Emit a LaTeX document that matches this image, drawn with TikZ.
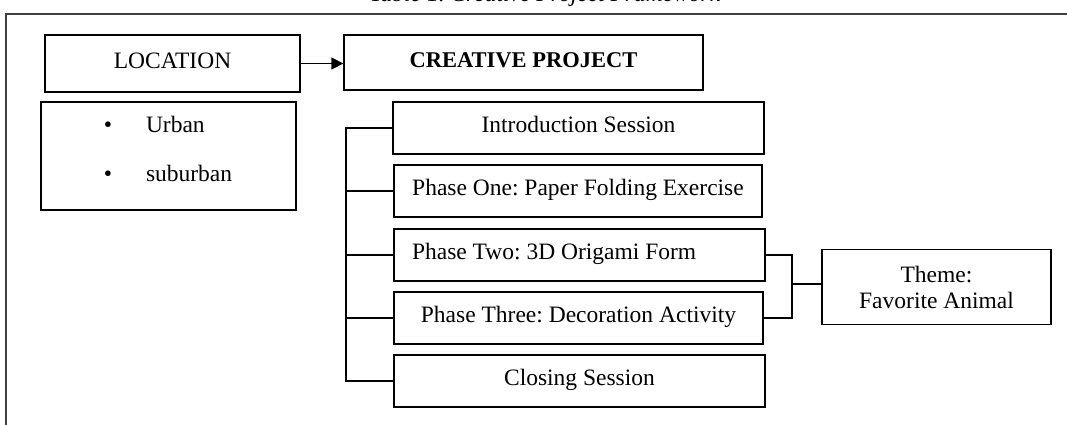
\documentclass[tikz,border=0pt]{standalone}
\usepackage{fontspec}
\setmainfont{Liberation Serif}
\usetikzlibrary{arrows.meta}
\frenchspacing
\begin{document}
\begin{tikzpicture}[x=1pt,y=-1pt,
  boxbase/.style={draw=black, line width=1.3pt, fill=white, inner sep=0pt,
    font=\fontsize{23.5}{27}\selectfont\frenchspacing},
  box/.style={boxbase, text height=16pt, text depth=7pt},
  conn/.style={draw=black, line width=1.3pt},
  frame/.style={draw=black!75, line width=2pt}]
\clip (0,0) rectangle (1067,424);
\fill[white] (0,0) rectangle (1067,424);
% caption (mostly cut off at the top)
\node[anchor=base, font=\fontsize{23.5}{27}\selectfont\itshape\frenchspacing] (cap) at (545,1) {Table 1. Creative Project Framework};
% frame
\draw[frame] (6,440) -- (6,14) -- (1080,14);
% boxes
\node[box, minimum width=255pt, minimum height=57pt] (loc) at (172.5,63.5) {LOCATION};
\node[box, minimum width=359pt, minimum height=55pt, font=\fontsize{22.5}{27}\selectfont\bfseries] (cp) at (523.5,62.5) {CREATIVE PROJECT};
\node[box, minimum width=255pt, minimum height=108pt] (locbox) at (168.5,156) {};
\node[anchor=center, font=\fontsize{23.5}{27}\selectfont, inner sep=0pt] (items) at (168,152)
  {\begin{tabular}{@{}l@{\hspace{34pt}}l@{}}\textbullet & Urban\\[22pt] \textbullet & suburban\end{tabular}};
\node[box, minimum width=371pt, minimum height=52pt] (intro) at (578.5,128) {Introduction Session};
\node[box, minimum width=368pt, minimum height=52pt] (p1) at (578,191) {Phase One: Paper Folding Exercise};
\node[box, minimum width=371pt, minimum height=52pt, text width=335pt, inner xsep=18pt, align=flush left] (p2) at (579.5,255) {Phase Two: 3D Origami Form};
\node[box, minimum width=369pt, minimum height=52pt] (p3) at (578.5,318) {Phase Three: Decoration Activity};
\node[box, minimum width=371pt, minimum height=52pt] (close) at (579.5,381) {Closing Session};
\node[boxbase, minimum width=229pt, minimum height=75pt, align=center] (theme) at (936.5,287) {Theme:\\[-1pt]Favorite Animal};
% arrow
\draw[conn, -{Triangle[length=12pt,width=12pt]}] (loc.east) -- (loc.east -| cp.west);
% tree
\coordinate (t) at (346,0);
\draw[conn] (intro.west) -- (intro.west -| t) |- (close.west);
\draw[conn] (p1.west) -- (p1.west -| t);
\draw[conn] (p2.west) -- (p2.west -| t);
\draw[conn] (p3.west) -- (p3.west -| t);
% theme bracket
\coordinate (j) at (792,284);
\draw[conn] (p2.east) -- (p2.east -| j) -- (p3.east -| j) -- (p3.east);
\draw[conn] (j) -- (j -| theme.west);
\end{tikzpicture}
\end{document}
